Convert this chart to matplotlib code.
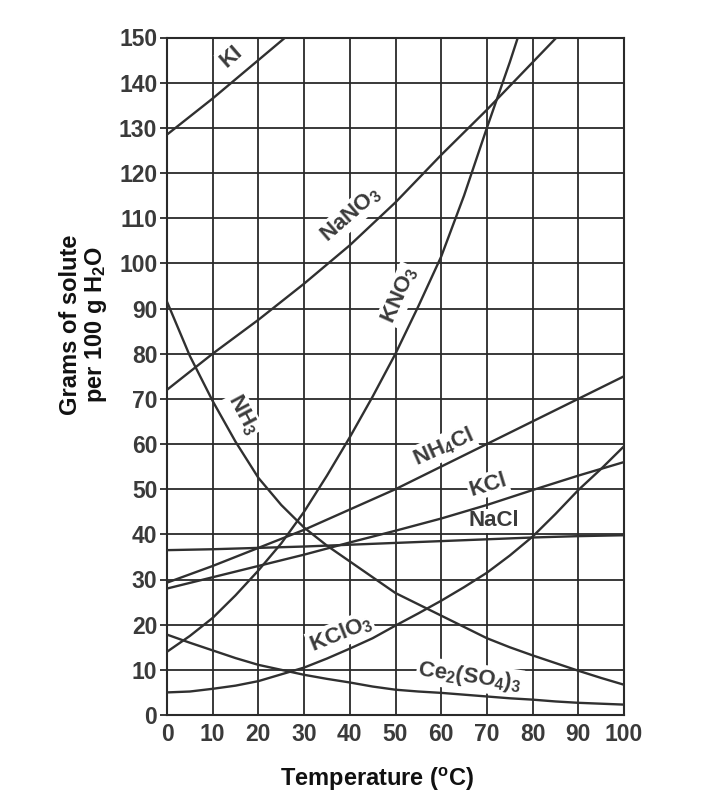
import numpy as np
import matplotlib
matplotlib.use("Agg")
import matplotlib.pyplot as plt

plt.rcParams['font.family'] = ['Liberation Sans', 'DejaVu Sans']
plt.rcParams['mathtext.fontset'] = 'custom'
plt.rcParams['mathtext.rm'] = 'Liberation Sans:bold'
plt.rcParams['mathtext.it'] = 'Liberation Sans:bold'
plt.rcParams['mathtext.bf'] = 'Liberation Sans:bold'
plt.rcParams['mathtext.default'] = 'rm'

# solubility curves (g solute / 100 g water)
t10 = [0, 10, 20, 30, 40, 50, 60, 70, 80, 90, 100]
t5 = [0, 5, 10, 15, 20, 25, 30, 35, 40, 45, 50, 55, 60, 65, 70, 75, 80, 85, 90, 95, 100]

ki_t = [0, 10, 20, 30]
ki = [128.5, 136.5, 145, 153.5]

nano3_t = [0, 10, 20, 30, 40, 50, 60, 70, 80, 90]
nano3 = [72, 80, 87.5, 95.5, 104, 113.5, 124, 134, 144.5, 155]

kno3_t = [0, 5, 10, 15, 20, 25, 30, 35, 40, 45, 50, 55, 60, 65, 70, 75, 80]
kno3 = [14, 17.5, 21.5, 26.5, 32, 38, 45, 53, 61.5, 70.5, 80, 90.5, 101.5, 115, 130, 144.5, 160]

nh3 = [91.5, 79.5, 69.5, 60.5, 52.5, 46.5, 41.5, 37.5, 34, 30.5, 27,
       24.5, 22, 19.5, 17, 15, 13.2, 11.5, 9.8, 8.2, 6.7]

nh4cl = [29.3, 33, 37, 41, 45.5, 50, 55, 60, 65, 70, 75]
kcl = [28, 30.5, 33, 35.5, 38.2, 40.8, 43.5, 46.5, 49.8, 53, 56]
nacl = [36.5, 36.7, 37, 37.3, 37.7, 38.1, 38.5, 38.9, 39.3, 39.6, 39.8]

kclo3 = [5, 5.2, 5.8, 6.5, 7.5, 9, 10.5, 12.5, 14.7, 17, 19.8,
         22.5, 25.3, 28.3, 31.5, 35.3, 39.5, 44.5, 49.8, 54.5, 59.5]
ce2so43 = [17.8, 16, 14.3, 12.6, 11.1, 10, 8.9, 8, 7.2, 6.3, 5.6,
           5.2, 4.9, 4.5, 4.1, 3.7, 3.4, 3.0, 2.7, 2.5, 2.3]

# label text, position, rotation
labels = [
    ("KI", 14.0, 145.8, 41),
    ("NaNO$_3$", 40.3, 110.8, 41),
    ("KNO$_3$", 50.9, 93, 66),
    ("NH$_3$", 16.6, 66.5, -62),
    ("NH$_4$Cl", 60.5, 59.3, 24),
    ("KCl", 70.2, 51, 17),
    ("NaCl", 71.5, 43, 0),
    ("KClO$_3$", 38, 18, 22),
    ("Ce$_2$(SO$_4$)$_3$", 66.3, 8.4, -8),
]

fig = plt.figure(figsize=(7.11, 8.02), dpi=100)
ax = fig.add_axes([167 / 711, 1 - 715 / 802, 457 / 711, 677.5 / 802])

lc = '#303030'
lw = 1.7
ax.plot(ki_t, ki, color=lc, lw=lw, zorder=3)
ax.plot(nano3_t, nano3, color=lc, lw=lw, zorder=3)
ax.plot(kno3_t, kno3, color=lc, lw=lw, zorder=3)
ax.plot(t5, nh3, color=lc, lw=lw, zorder=3)
ax.plot(t10, nh4cl, color=lc, lw=lw, zorder=3)
ax.plot(t10, kcl, color=lc, lw=lw, zorder=3)
ax.plot(t10, nacl, color=lc, lw=lw, zorder=3)
ax.plot(t5, kclo3, color=lc, lw=lw, zorder=3)
ax.plot(t5, ce2so43, color=lc, lw=lw, zorder=3)

for txt, x, y, rot in labels:
    ax.text(x, y, txt, rotation=rot, ha='center', va='center', fontsize=16,
            fontweight='bold', color='#3a3a3a', zorder=2.5,
            rotation_mode='anchor',
            bbox=dict(facecolor='white', edgecolor='none', pad=1.2))

ax.set_xlim(0, 100)
ax.set_ylim(0, 150)
ax.set_xticks(range(0, 101, 10))
ax.set_yticks(range(0, 151, 10))
ax.set_axisbelow(True)
ax.grid(True, color='#2a2a2a', lw=1.3)
for s in ax.spines.values():
    s.set_color('#2a2a2a')
    s.set_linewidth(1.5)

ax.tick_params(axis='y', length=5, width=1.3, color='#2a2a2a', pad=2,
               labelsize=16.5, labelcolor='#3a3a3a')
ax.tick_params(axis='x', length=0, pad=6, labelsize=16.5, labelcolor='#3a3a3a')
for lab in ax.get_xticklabels() + ax.get_yticklabels():
    lab.set_fontweight('bold')

fig.text(377 / 711, 1 - 779 / 802, r"Temperature ($^{\rm o}$C)", ha='center',
         va='center', fontsize=17, fontweight='bold', color='#111111')
fig.text(84 / 711, 1 - 325 / 802, "Grams of solute\nper 100 g H$_2$O",
         rotation=90, ha='center', va='center', fontsize=17,
         fontweight='bold', color='#111111', multialignment='center',
         linespacing=1.05)

fig.savefig("out.png", dpi=100)
